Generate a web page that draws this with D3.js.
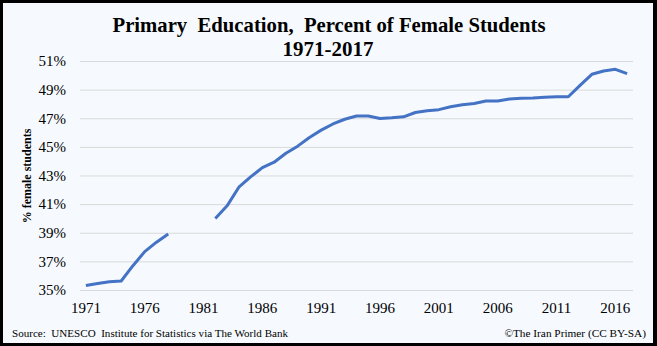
<!DOCTYPE html>
<html>
<head>
<meta charset="utf-8">
<script src="https://cdn.jsdelivr.net/npm/d3@7"></script>
<style>
  html, body { margin: 0; padding: 0; background: #fff; }
  svg { display: block; }
  text { font-family: "Liberation Serif", "Times New Roman", serif; fill: #000; }
</style>
</head>
<body>
<svg id="chart" width="657" height="346"></svg>
<script>
const years = d3.range(1971, 2018);
const femaleShare = [
  35.32, 35.45, 35.57, 35.63, 36.70, 37.68, 38.34, 38.91, null, null,
  null, 40.00, 40.88, 42.18, 42.90, 43.55, 43.93, 44.55, 45.05, 45.66,
  46.17, 46.60, 46.93, 47.16, 47.16, 46.98, 47.03, 47.10, 47.40, 47.53,
  47.60, 47.80, 47.95, 48.03, 48.20, 48.21, 48.35, 48.40, 48.42, 48.47,
  48.50, 48.50, 49.30, 50.07, 50.30, 50.42, 50.12
];
const yTicks = [35, 37, 39, 41, 43, 45, 47, 49, 51];
const xTickYears = [1971, 1976, 1981, 1986, 1991, 1996, 2001, 2006, 2011, 2016];
const titleLines = ["Primary  Education,  Percent of Female Students", "1971-2017"];
const yTitle = "% female students";
const sourceText = "Source:  UNESCO  Institute for Statistics via The World Bank";
const creditText = "\u00A9The Iran Primer (CC BY-SA)";

const W = 657, H = 346;
const svg = d3.select("#chart");

// background + border
svg.append("rect").attr("x", 0).attr("y", 0).attr("width", W).attr("height", H).attr("fill", "#000");
svg.append("rect").attr("x", 3).attr("y", 3).attr("width", W - 7).attr("height", H - 6).attr("fill", "#F6FAFE");

const plotL = 80, plotR = 633, plotT = 61, plotB = 290;
const x = d3.scaleBand().domain(years).range([plotL, plotR]).padding(0);
const y = d3.scaleLinear().domain([35, 51]).range([plotB, plotT]);

// gridlines + y labels
const yAxis = d3.axisLeft(y).tickValues(yTicks).tickSize(-(plotR - plotL)).tickPadding(14)
  .tickFormat(d => d + "%");
const gy = svg.append("g").attr("transform", `translate(${plotL},0)`).call(yAxis);
gy.select(".domain").remove();
gy.selectAll(".tick line").attr("stroke", "#D9D9D9").attr("stroke-width", 1);
gy.selectAll(".tick text").attr("font-size", 15).attr("font-family", "Liberation Serif, serif").attr("fill", "#000");

// x labels
const xAxis = d3.axisBottom(x).tickValues(xTickYears).tickSize(0).tickPadding(12);
const gx = svg.append("g").attr("transform", `translate(0,${plotB})`).call(xAxis);
gx.select(".domain").remove();
gx.selectAll(".tick text").attr("font-size", 15).attr("font-family", "Liberation Serif, serif").attr("fill", "#000");

// line
const data = years.map((yr, i) => ({ yr, v: femaleShare[i] }));
const line = d3.line()
  .defined(d => d.v !== null)
  .x(d => x(d.yr) + x.bandwidth() / 2)
  .y(d => y(d.v));
svg.append("path").datum(data)
  .attr("fill", "none").attr("stroke", "#4472C4").attr("stroke-width", 3)
  .attr("stroke-linejoin", "round").attr("d", line);

// title
svg.append("text").attr("x", 329).attr("y", 32).attr("text-anchor", "middle")
  .attr("font-size", 21).attr("font-weight", "bold").style("white-space", "pre")
  .attr("textLength", 433).attr("lengthAdjust", "spacingAndGlyphs").text(titleLines[0]);
svg.append("text").attr("x", 328).attr("y", 56).attr("text-anchor", "middle")
  .attr("font-size", 21).attr("font-weight", "bold").text(titleLines[1]);

// y title
svg.append("text").attr("transform", "translate(31,176) rotate(-90)")
  .attr("text-anchor", "middle").attr("font-size", 12).attr("font-weight", "bold").text(yTitle);

// footer
svg.append("text").attr("x", 12).attr("y", 337).attr("font-size", 11.3)
  .style("white-space", "pre").attr("textLength", 276).attr("lengthAdjust", "spacingAndGlyphs").text(sourceText);
svg.append("text").attr("x", 646).attr("y", 337).attr("text-anchor", "end").attr("font-size", 11.3).text(creditText);
</script>
</body>
</html>
